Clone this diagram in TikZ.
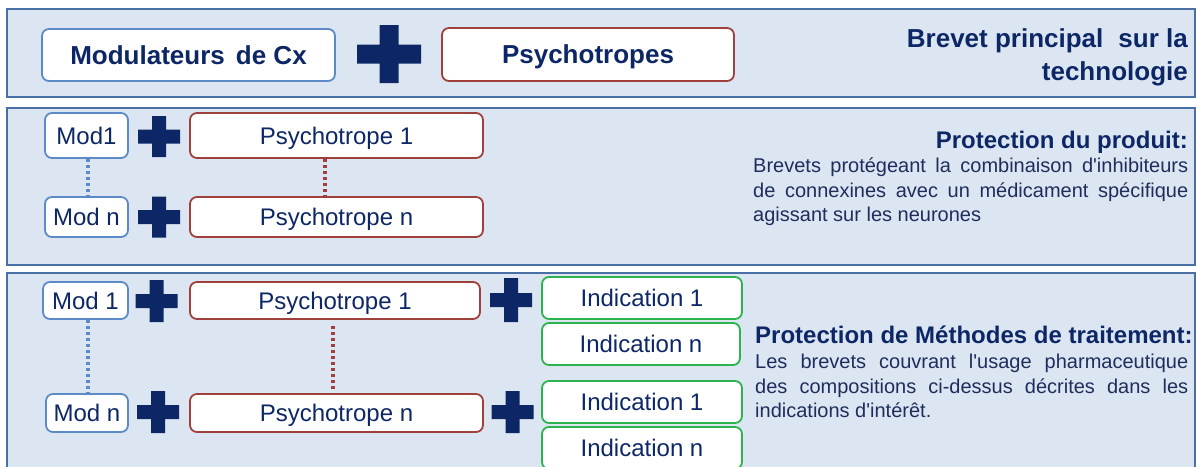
\documentclass[tikz,border=0pt]{standalone}
\usepackage{fontspec}
\setmainfont{Liberation Sans}
\definecolor{panelfill}{HTML}{DCE6F2}
\definecolor{panelline}{HTML}{4A6FA5}
\definecolor{navy}{HTML}{0D2766}
\definecolor{bodytext}{HTML}{1F2D5C}
\definecolor{bluebd}{HTML}{5B8AC6}
\definecolor{redbd}{HTML}{A0403C}
\definecolor{greenbd}{HTML}{2DB34D}
\newcommand\drawplus[5]{% cx, cy, half width, half height, half thickness
  \fill[navy] (#1-#3,#2-#5) -- (#1-#5,#2-#5) -- (#1-#5,#2-#4) -- (#1+#5,#2-#4) -- (#1+#5,#2-#5)
    -- (#1+#3,#2-#5) -- (#1+#3,#2+#5) -- (#1+#5,#2+#5) -- (#1+#5,#2+#4) -- (#1-#5,#2+#4)
    -- (#1-#5,#2+#5) -- (#1-#3,#2+#5) -- cycle;}
\tikzset{
  panel/.style={fill=panelfill, draw=panelline, line width=1.8pt},
  boxbase/.style={rounded corners=7pt, fill=white, line width=1.8pt, inner sep=0pt, text=navy,
    text depth=-2pt},
  bluebox/.style={boxbase, draw=bluebd},
  redbox/.style={boxbase, draw=redbd},
  greenbox/.style={boxbase, draw=greenbd},
  bigtxt/.style={font=\fontsize{26}{30}\selectfont\bfseries, text height=18.6pt},
  midtxt/.style={font=\fontsize{24}{28}\selectfont, text height=17.2pt},
  headtxt/.style={font=\fontsize{24}{28}\selectfont\bfseries, text=navy, inner sep=0pt},
  bodytxt/.style={font=\fontsize{20}{24}\selectfont, text=bodytext, inner sep=0pt, anchor=base west},
  bluedot/.style={draw=bluebd, line width=3.5pt, dash pattern=on 3pt off 3pt},
  reddot/.style={draw=redbd, line width=3.5pt, dash pattern=on 3pt off 3pt},
}
\begin{document}
\begin{tikzpicture}[x=1pt, y=-1pt]
\useasboundingbox (0,0) rectangle (1196,466);
\clip (0,0) rectangle (1196,466);
% panels
\draw[panel] (7,9) rectangle (1195,97);
\draw[panel] (7,108) rectangle (1195,265);
\draw[panel] (7,273) rectangle (1195,490);

% ---- panel 1
\node[bluebox, bigtxt, minimum width=293pt, minimum height=52pt] (modcx) at (188.5,55) {Modulateurs\hspace{0.15em} de Cx};
\node[redbox, bigtxt, minimum width=292pt, minimum height=53pt] (psys) at (588,54.5) {Psychotropes};
\drawplus{389}{54}{32}{29}{9.5}
\node[headtxt, font=\fontsize{26}{30}\selectfont\bfseries, anchor=base east] (t1a) at (1188,47) {Brevet principal\hspace{0.3em} sur la};
\node[headtxt, font=\fontsize{26}{30}\selectfont\bfseries, anchor=base east] (t1b) at (1188,80) {technologie};

% ---- panel 2
\node[bluebox, midtxt, minimum width=83pt, minimum height=45pt] (m2a) at (86.5,135.5) {Mod1};
\node[bluebox, midtxt, minimum width=83pt, minimum height=40pt] (m2b) at (86.5,217) {Mod n};
\node[redbox, midtxt, minimum width=293pt, minimum height=45pt] (p2a) at (336.5,135.5) {Psychotrope 1};
\node[redbox, midtxt, minimum width=293pt, minimum height=40pt] (p2b) at (336.5,217) {Psychotrope n};
\drawplus{159}{136.5}{21}{20.5}{7}
\drawplus{159}{217}{21}{20.5}{7}
\coordinate (bx) at (88,0);
\coordinate (rx2) at (325,0);
\draw[bluedot] (m2a.south -| bx) -- (m2b.north -| bx);
\draw[reddot] (p2a.south -| rx2) -- (p2b.north -| rx2);
\node[headtxt, anchor=base east] (h2) at (1188,148) {Protection du produit:};
\node[bodytxt] (b2a) at (753,172) {\makebox[435pt][s]{Brevets protégeant la combinaison d\textquotesingle inhibiteurs}};
\node[bodytxt] (b2b) at (753,197) {\makebox[435pt][s]{de connexines avec un médicament spécifique}};
\node[bodytxt] (b2c) at (753,221) {agissant sur les neurones};

% ---- panel 3
\node[bluebox, midtxt, minimum width=85pt, minimum height=37pt] (m3a) at (85.5,300.5) {Mod 1};
\node[bluebox, midtxt, minimum width=82pt, minimum height=38pt] (m3b) at (87,413) {Mod n};
\node[redbox, midtxt, minimum width=290pt, minimum height=37pt] (p3a) at (335,300.5) {Psychotrope 1};
\node[redbox, midtxt, minimum width=293pt, minimum height=38pt] (p3b) at (336.5,413) {Psychotrope n};
\drawplus{156.5}{301}{21}{21}{7}
\drawplus{158}{412}{21}{21}{7}
\drawplus{511}{300}{21}{22}{7}
\drawplus{512.5}{412}{21}{21}{7}
\node[greenbox, midtxt, minimum width=200pt, minimum height=42pt] (i1a) at (642,298) {Indication 1};
\node[greenbox, midtxt, minimum width=198pt, minimum height=42pt] (ina) at (641,344) {Indication n};
\node[greenbox, midtxt, minimum width=200pt, minimum height=42pt] (i1b) at (642,402) {Indication 1};
\node[greenbox, midtxt, minimum width=200pt, minimum height=42pt] (inb) at (642,448) {Indication n};
\coordinate (rx3) at (333,0);
\draw[bluedot] (m3a.south -| bx) -- (m3b.north -| bx);
\draw[reddot, shorten <=6pt, shorten >=4pt] (p3a.south -| rx3) -- (p3b.north -| rx3);
\node[headtxt, anchor=base west] (h3) at (755,343) {Protection de Méthodes de traitement:};
\node[bodytxt] (b3a) at (755,368) {\makebox[433pt][s]{Les brevets couvrant l\textquotesingle usage pharmaceutique}};
\node[bodytxt] (b3b) at (755,393) {\makebox[433pt][s]{des compositions ci-dessus décrites dans les}};
\node[bodytxt] (b3c) at (755,417) {indications d\textquotesingle intérêt.};
\end{tikzpicture}
\end{document}
